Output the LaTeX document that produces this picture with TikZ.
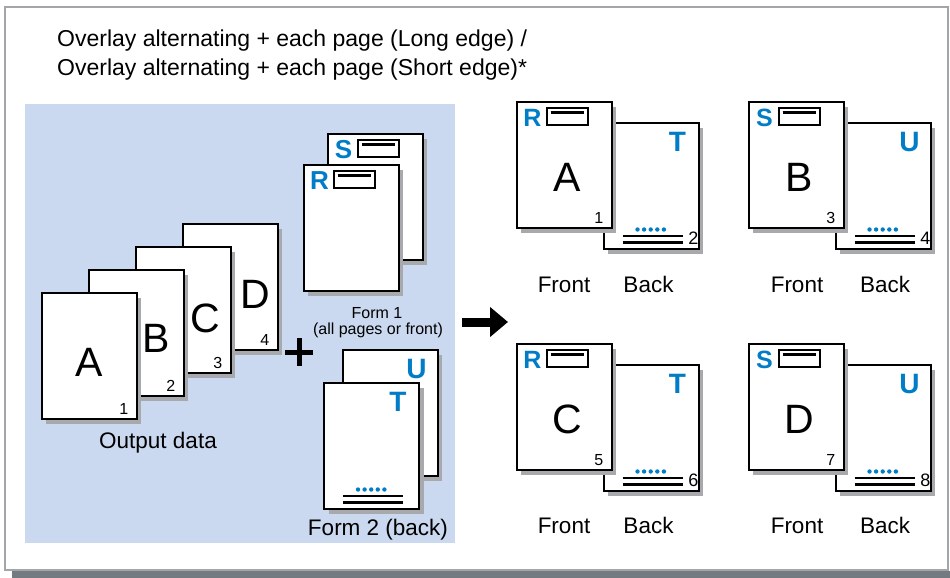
\documentclass[tikz,border=0pt]{standalone}
\usepackage{fontspec}
\setmainfont{Liberation Sans}
\usetikzlibrary{shadows,arrows.meta}
\definecolor{formblue}{RGB}{0,125,198}
\definecolor{panelblue}{RGB}{202,217,239}
\definecolor{pageshadow}{RGB}{167,169,172}
\definecolor{framegray}{RGB}{163,166,169}
\definecolor{frameshadow}{RGB}{116,123,128}

\newcommand{\fsize}[1]{\fontsize{#1}{#1}\selectfont}
% front form: blue letter and a box with a line
\newcommand{\frontmark}[3]{%
  \node[formletter,font=\fsize{#3}\bfseries] (#1let) at ([xshift=17pt,yshift=-17pt]#1.north west) {#2};
  \node[markbox] (#1box) at ([xshift=51.5pt,yshift=-15.5pt]#1.north west) {};
  \draw[line width=2.5pt] ([xshift=5pt,yshift=-5.5pt]#1box.north west) -- ([xshift=-5pt,yshift=-5.5pt]#1box.north east);
}
% back form: blue letter, dots and two lines
\newcommand{\backmark}[2]{%
  \node[formletter,font=\fsize{28}\bfseries] (#1let) at ([xshift=-22pt,yshift=-20pt]#1.north east) {#2};
  \foreach \dotno in {0,...,4}
    \fill[formblue] ([xshift=35pt+6.6pt*\dotno,yshift=20.5pt]#1.south west) circle (2.2pt);
  \draw[line width=2.2pt] ([xshift=20pt,yshift=14pt]#1.south west) -- ([xshift=80pt,yshift=14pt]#1.south west);
  \draw[line width=2.2pt] ([xshift=20pt,yshift=7.5pt]#1.south west) -- ([xshift=80pt,yshift=7.5pt]#1.south west);
}

\begin{document}
\begin{tikzpicture}[x=1pt,y=-1pt,
  sheet/.style={draw,line width=2pt,fill=white,minimum width=95pt,minimum height=126pt,inner sep=0pt,
    drop shadow={shadow xshift=4.5pt,shadow yshift=-4.5pt,fill=pageshadow,opacity=1}},
  formletter/.style={text=formblue,inner sep=0pt},
  markbox/.style={draw,line width=2pt,fill=white,minimum width=41pt,minimum height=17pt,inner sep=0pt},
  bigletter/.style={font=\fsize{41},inner sep=0pt},
  pagenum/.style={font=\fsize{16},inner sep=0pt,anchor=south east},
  backnum/.style={font=\fsize{18},inner sep=0pt,anchor=south east},
  txt/.style={font=\fsize{22.5},inner sep=0pt,anchor=base}]
\useasboundingbox (0,0) rectangle (950,578);
% frame and panel
\fill[frameshadow] (12,571) rectangle (960,590);
\draw[framegray,line width=2pt,fill=white] (5,7) rectangle (948,570);
\fill[panelblue] (25,104) rectangle (455,543);
% title
\node[txt,font=\fsize{23},anchor=base west] (titleA) at (57,47) {Overlay alternating + each page (Long edge) /};
\node[txt,font=\fsize{23},anchor=base west] (titleB) at (57,75) {Overlay alternating + each page (Short edge)*};

% output data
\node[sheet] (pageD) at (230,287) {};
\node[bigletter] (letD) at (255,294) {D};
\node[pagenum] (numD) at ([xshift=-9pt,yshift=5.5pt]pageD.south east) {4};
\node[sheet] (pageC) at (183,310) {};
\node[bigletter] (letC) at (205,318) {C};
\node[pagenum] (numC) at ([xshift=-9pt,yshift=5.5pt]pageC.south east) {3};
\node[sheet] (pageB) at (136,333) {};
\node[bigletter] (letB) at (156,338) {B};
\node[pagenum] (numB) at ([xshift=-9pt,yshift=5.5pt]pageB.south east) {2};
\node[sheet] (pageA) at (89,356) {};
\node[bigletter] (letA) at (89,362) {A};
\node[pagenum] (numA) at ([xshift=-9pt,yshift=5.5pt]pageA.south east) {1};
\node[txt] (outlbl) at (158,448) {Output data};

% plus
\coordinate (plus) at (299,352);
\draw[line width=5pt] ([xshift=-14pt]plus) -- ([xshift=14pt]plus);
\draw[line width=5pt] ([yshift=-14pt]plus) -- ([yshift=14pt]plus);

% form 1
\node[sheet] (formS) at (375,197) {};
\frontmark{formS}{S}{26}
\node[sheet] (formR) at (351,228) {};
\frontmark{formR}{R}{26}
\node[font=\fsize{16},inner sep=0pt,anchor=base] (formAlbl) at (377,318) {Form 1};
\node[font=\fsize{16},inner sep=0pt,anchor=base] (formAsub) at (378,334) {(all pages or front)};

% form 2
\node[sheet] (formU) at (390,413) {};
\backmark{formU}{U}
\node[sheet] (formT) at (371.5,446) {};
\backmark{formT}{T}
\node[txt] (formBlbl) at (378,535) {Form 2 (back)};

% arrow
\coordinate (arrowtail) at (462,322);
\coordinate (arrowtip) at (508,322);
\draw[line width=9pt,-{Triangle[length=18pt,width=29pt]}] (arrowtail) -- (arrowtip);

% pair 1
\node[sheet] (backA) at (651,186) {};
\backmark{backA}{T}
\node[backnum] (bnumA) at ([xshift=-1pt,yshift=5pt]backA.south east) {2};
\node[sheet] (frontA) at (564,165) {};
\frontmark{frontA}{R}{25}
\node[bigletter] (fletA) at ([xshift=3pt,yshift=-12pt]frontA.center) {A};
\node[pagenum] (fnumA) at ([xshift=-9pt,yshift=5.5pt]frontA.south east) {1};
\node[txt] (flblA) at (564,292) {Front};
\node[txt] (blblA) at (648.5,292) {Back};

% pair 2
\node[sheet] (backB) at (883,186) {};
\backmark{backB}{U}
\node[backnum] (bnumB) at ([xshift=-1pt,yshift=5pt]backB.south east) {4};
\node[sheet] (frontB) at (796,165) {};
\frontmark{frontB}{S}{25}
\node[bigletter] (fletB) at ([xshift=3pt,yshift=-12pt]frontB.center) {B};
\node[pagenum] (fnumB) at ([xshift=-9pt,yshift=5.5pt]frontB.south east) {3};
\node[txt] (flblB) at (797,292) {Front};
\node[txt] (blblB) at (885,292) {Back};

% pair 3
\node[sheet] (backC) at (651,428) {};
\backmark{backC}{T}
\node[backnum] (bnumC) at ([xshift=-1pt,yshift=5pt]backC.south east) {6};
\node[sheet] (frontC) at (564,407) {};
\frontmark{frontC}{R}{25}
\node[bigletter] (fletC) at ([xshift=3pt,yshift=-12pt]frontC.center) {C};
\node[pagenum] (fnumC) at ([xshift=-9pt,yshift=5.5pt]frontC.south east) {5};
\node[txt] (flblC) at (564,533) {Front};
\node[txt] (blblC) at (648.5,533) {Back};

% pair 4
\node[sheet] (backD) at (883,428) {};
\backmark{backD}{U}
\node[backnum] (bnumD) at ([xshift=-1pt,yshift=5pt]backD.south east) {8};
\node[sheet] (frontD) at (796,407) {};
\frontmark{frontD}{S}{25}
\node[bigletter] (fletD) at ([xshift=3pt,yshift=-12pt]frontD.center) {D};
\node[pagenum] (fnumD) at ([xshift=-9pt,yshift=5.5pt]frontD.south east) {7};
\node[txt] (flblD) at (797,533) {Front};
\node[txt] (blblD) at (885,533) {Back};
\end{tikzpicture}
\end{document}
